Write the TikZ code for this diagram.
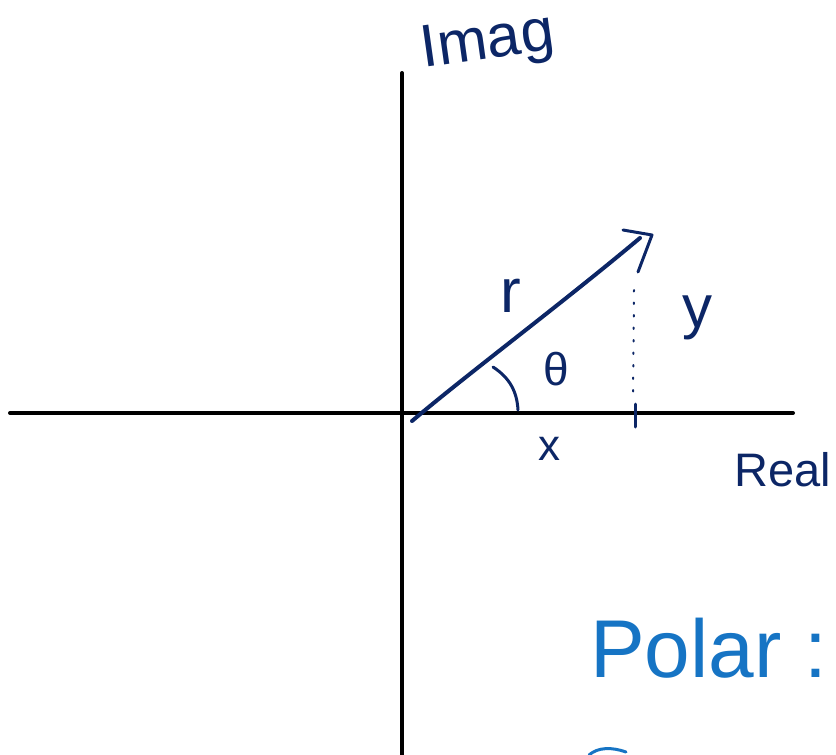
\documentclass[tikz,border=0pt]{standalone}
\usepackage{fontspec}
\setmainfont{Liberation Sans}
\definecolor{ink}{RGB}{12,38,102}
\definecolor{pen}{RGB}{22,116,196}
\begin{document}
\begin{tikzpicture}[x=1pt,y=-1pt,
  axis/.style={line width=4pt,black,line cap=round},
  inkline/.style={line width=4pt,ink,line cap=round,line join=round},
  lbl/.style={ink,inner sep=0pt},
  fs/.style={font=\fontsize{#1}{#1}\selectfont}]
\useasboundingbox (0,0) rectangle (836,755);
\clip (0,0) rectangle (836,755);
% axes
\coordinate (xl) at (10,413);
\coordinate (xr) at (793,413);
\coordinate (yt) at (402,73);
\coordinate (yb) at (402,760);
\draw[axis] (xl) -- (xr);
\draw[axis] (yt) -- (yb);
% vector
\coordinate (o) at (412,421);
\coordinate (p) at (640,238);
\draw[inkline] (o) .. controls (470,372) and (560,305) .. (p);
\coordinate (h1) at (623,230);
\coordinate (h2) at (652,235);
\coordinate (h3) at (638,272);
\draw[inkline,line width=3pt] (h1) -- (h2) -- (h3);
% dotted projection and tick
\coordinate (d1) at (634,290);
\coordinate (d2) at (633,396);
\draw[ink,line width=2pt,dash pattern=on 1.5pt off 11pt,line cap=round] (d1) -- (d2);
\coordinate (t1) at (635,404);
\coordinate (t2) at (635,427);
\draw[inkline,line width=3pt] (t1) -- (t2);
% angle arc
\coordinate (a1) at (493,367);
\coordinate (a2) at (518,410);
\draw[inkline,line width=3pt] (a1) .. controls (510,378) and (517,392) .. (a2);
% labels
\node[lbl,fs=60,rotate=8] (imag) at (488,44) {Imag};
\node[lbl,fs=47,anchor=west] (real) at (734,470) {Real};
\node[lbl,fs=62] (r) at (511,296) {r};
\node[lbl,fs=60] (y) at (697,318) {y};
\node[lbl,fs=46] (th) at (556,369) {θ};
\node[lbl,fs=44] (x) at (549,449) {x};
\node[pen,inner sep=0pt,fs=82,anchor=west] (polar) at (590,648) {Polar :};
% partial stroke at bottom
\coordinate (b1) at (589,755);
\coordinate (b2) at (626,752);
\draw[pen,line width=3pt,line cap=round] (b1) .. controls (598,747) and (612,747) .. (b2);
\end{tikzpicture}
\end{document}
